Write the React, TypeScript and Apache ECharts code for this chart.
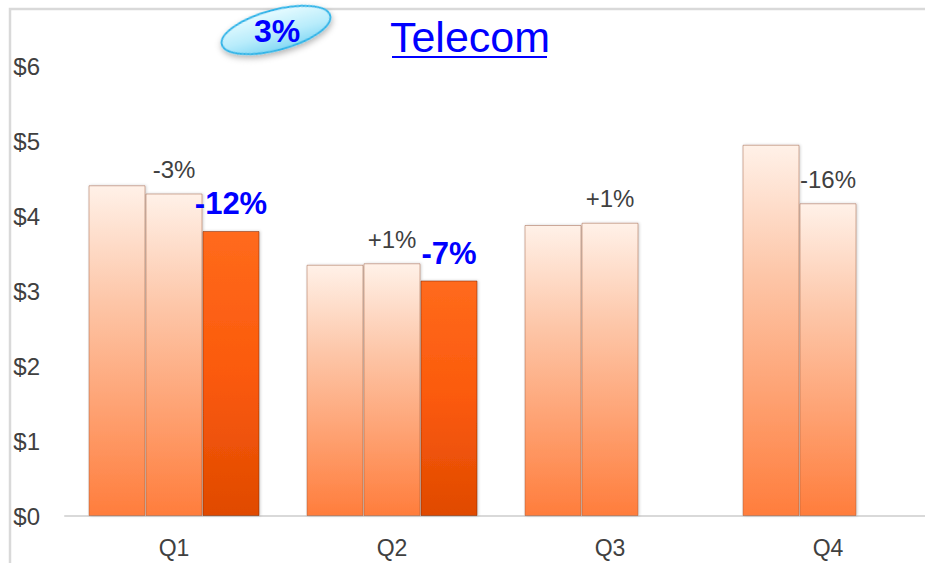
import React, { useEffect, useRef } from "react";
import * as echarts from "echarts";

const categories = ["Q1", "Q2", "Q3", "Q4"];
const seriesA = [4.41, 3.35, 3.88, 4.95];
const seriesB = [4.3, 3.37, 3.91, 4.17];
const seriesC: (number | null)[] = [3.8, 3.14, null, null];
const changeB = ["-3%", "+1%", "+1%", "-16%"];
const changeC = ["-12%", "-7%", "", ""];
const yTicks = [0, 1, 2, 3, 4, 5, 6];
const titleText = "Telecom";
const badgeText = "3%";

const lightGrad = () =>
  new echarts.graphic.LinearGradient(0, 0, 0, 1, [
    { offset: 0, color: "#fff1e8" },
    { offset: 0.35, color: "#fdc6a8" },
    { offset: 1, color: "#ff7d3c" },
  ]);
const darkGrad = () =>
  new echarts.graphic.LinearGradient(0, 0, 0, 1, [
    { offset: 0, color: "#ff6a1c" },
    { offset: 0.5, color: "#fb5a0c" },
    { offset: 1, color: "#e04a02" },
  ]);

export default function App() {
  const ref = useRef<HTMLDivElement>(null);
  useEffect(() => {
    if (!ref.current) return;
    const chart = echarts.init(ref.current, undefined, { renderer: "svg" });
    const font = "Liberation Sans, Arial, sans-serif";
    const barCommon = {
      type: "bar" as const,
      barWidth: 57,
      barGap: "0%",
      itemStyle: {
        borderColor: "rgba(150,85,55,0.45)",
        borderWidth: 1,
        shadowBlur: 3,
        shadowColor: "rgba(0,0,0,0.2)",
        shadowOffsetX: 1,
      },
    };
    chart.setOption({
      animation: false,
      grid: { left: 65, top: 66, bottom: 47, width: 872, outerBoundsMode: "none", containLabel: false },
      xAxis: {
        type: "category",
        data: categories,
        axisLine: { lineStyle: { color: "#d9d9d9", width: 2 } },
        axisTick: { show: false },
        axisLabel: { color: "#404040", fontSize: 23, fontFamily: font, margin: 20 },
      },
      yAxis: {
        type: "value",
        min: yTicks[0],
        max: yTicks[yTicks.length - 1],
        interval: 1,
        splitLine: { show: false },
        axisLine: { show: false },
        axisTick: { show: false },
        axisLabel: {
          color: "#404040",
          fontSize: 24,
          fontFamily: font,
          margin: 25,
          formatter: (v: number) => "$" + v,
        },
      },
      series: [
        {
          ...barCommon,
          data: seriesA,
          itemStyle: { ...barCommon.itemStyle, color: lightGrad() },
        },
        {
          ...barCommon,
          data: seriesB,
          itemStyle: { ...barCommon.itemStyle, color: lightGrad() },
          label: {
            show: true,
            position: "top",
            distance: 12,
            color: "#404040",
            fontSize: 24,
            fontFamily: font,
            formatter: (p: any) => changeB[p.dataIndex],
          },
        },
        {
          ...barCommon,
          data: seriesC,
          itemStyle: { ...barCommon.itemStyle, color: darkGrad(), borderColor: "rgba(120,40,0,0.5)" },
          label: {
            show: true,
            position: "top",
            distance: 12,
            color: "#0000ff",
            fontSize: 31,
            fontWeight: "bold",
            fontFamily: font,
            formatter: (p: any) => changeC[p.dataIndex],
          },
        },
      ],
      graphic: [
        {
          type: "rect",
          z: -10,
          shape: { x: 10, y: 9, width: 940, height: 580 },
          style: { fill: "none", stroke: "#d9d9d9", lineWidth: 2.5 },
        },
        {
          type: "ellipse",
          x: 276,
          y: 30,
          rotation: (15 * Math.PI) / 180,
          shape: { cx: 0, cy: 0, rx: 56, ry: 20 },
          style: {
            fill: new echarts.graphic.LinearGradient(0, 0, 0, 1, [
              { offset: 0, color: "#e6fbff" },
              { offset: 0.6, color: "#b8ecfb" },
              { offset: 1, color: "#86d9f4" },
            ]),
            stroke: "#2db4e8",
            lineWidth: 2,
            shadowBlur: 6,
            shadowColor: "rgba(0,0,0,0.3)",
            shadowOffsetY: 3,
          },
        },
        {
          type: "text",
          x: 277,
          y: 31,
          style: {
            text: badgeText,
            font: "bold 32px " + font,
            fill: "#0000ff",
            align: "center",
            verticalAlign: "middle",
          },
        },
        {
          type: "text",
          x: 470,
          y: 37,
          style: {
            text: titleText,
            font: "43px " + font,
            fill: "#0000ff",
            align: "center",
            verticalAlign: "middle",
          },
        },
        {
          type: "line",
          shape: { x1: 392, y1: 57, x2: 547, y2: 57 },
          style: { stroke: "#0000ff", lineWidth: 2 },
        },
      ],
    });
    return () => chart.dispose();
  }, []);
  return <div ref={ref} style={{ width: 925, height: 563, position: "absolute", left: 0, top: 0 }} />;
}
